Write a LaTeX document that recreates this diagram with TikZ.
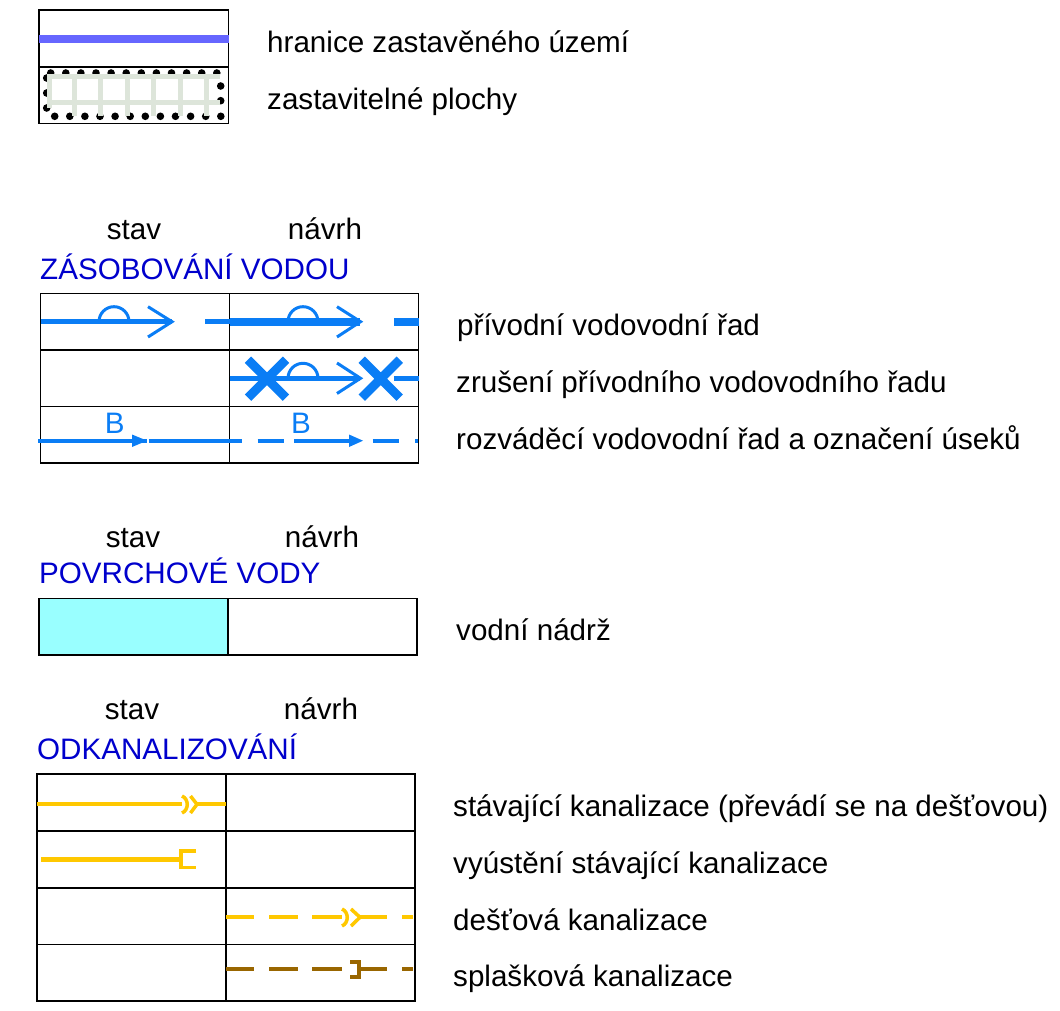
\documentclass[tikz,border=0pt]{standalone}
\usepackage{fontspec}
\setmainfont{Liberation Sans}
\definecolor{wblue}{HTML}{0A7DF5}
\definecolor{hblue}{HTML}{0000CC}
\definecolor{lim}{HTML}{6666FF}
\definecolor{gridc}{HTML}{DDE5DA}
\definecolor{nadrz}{HTML}{99FFFF}
\definecolor{yel}{HTML}{FFC800}
\definecolor{brn}{HTML}{996600}
\tikzset{
  lbl/.style={anchor=base west,inner sep=0pt,yshift=-0.8pt,font=\fontsize{29.6}{32}\selectfont,text=black},
  head/.style={anchor=base,inner sep=0pt,yshift=-0.8pt,font=\fontsize{29.6}{32}\selectfont,text=black},
  sect/.style={anchor=base west,inner sep=0pt,yshift=-0.8pt,font=\fontsize{29.6}{32}\selectfont,text=hblue},
  bmark/.style={anchor=base,inner sep=0pt,yshift=-0.8pt,font=\fontsize{29.6}{32}\selectfont,text=wblue},
  tab/.style={draw=black,line width=1.1pt},
  wl/.style={draw=wblue,line width=5pt},
  wthick/.style={draw=wblue,line width=8pt},
  wthin/.style={draw=wblue,line width=3pt},
  wcross/.style={draw=wblue,line width=9pt},
  wdist/.style={draw=wblue,line width=4pt},
  yl/.style={draw=yel,line width=4pt},
  ythin/.style={draw=yel,line width=3.5pt},
  br/.style={draw=brn,line width=4pt},
  gridl/.style={draw=gridc,line width=5pt},
}
\begin{document}
\begin{tikzpicture}[x=1pt,y=-1pt]
\useasboundingbox (0,0) rectangle (1060,1011);
% top legend
\draw[tab] (39,10) rectangle (228.5,123.5) (39,67) -- (228.5,67);
\draw[draw=lim,line width=8pt] (39,39) -- (228.5,39);
\foreach \i in {0,...,11} {
  \fill (50.7+15.1*\i,73) circle (3.8);
  \fill (54.7+15.1*\i,116.3) circle (3.8);
}
\foreach \y in {78,93,108} \fill (46.7,\y) circle (3.8);
\foreach \y in {86,100.7} \fill (220.7,\y) circle (3.8);
\foreach \y in {76.7,102.7} \draw[gridl] (47,\y) -- (220,\y);
\foreach \x in {49,74,100,127,153.7,180,206} \draw[gridl] (\x,76) -- (\x,\ifdim\x pt=49pt 108\else 116\fi);
\node[lbl] (t1) at (267,52) {hranice zastavěného území};
\node[lbl] (t2) at (267,109) {zastavitelné plochy};
% water supply
\node[head] (s1) at (134,239) {stav};
\node[head] (n1) at (325,239) {návrh};
\node[sect] (z1) at (40,279) {ZÁSOBOVÁNÍ VODOU};
\draw[tab] (40.5,293.5) rectangle (418.5,463) (229.5,293.5) -- (229.5,463) (40.5,350) -- (418.5,350) (40.5,406.7) -- (418.5,406.7);
% row 1
\draw[wl] (40.5,321.7) -- (172,321.7) (205,321.7) -- (229.5,321.7);
\draw[wthin] (99,321.7) arc[start angle=180,end angle=360,radius=15];
\draw[wthin] (148,306.7) -- (172,321.7) -- (148,337);
\draw[wthick] (229.5,321.7) -- (360,321.7) (394,321.7) -- (418.5,321.7);
\draw[wthin] (288,321.7) arc[start angle=180,end angle=360,radius=15];
\draw[wthin] (337,306.7) -- (360.5,321.7) -- (337,337);
% row 2
\draw[wl] (229.5,378.3) -- (360,378.3) (394,378.3) -- (418.5,378.3);
\draw[wthin] (288,378.3) arc[start angle=180,end angle=360,radius=15];
\draw[wthin] (337,363) -- (360.5,378.3) -- (337,393.5);
\draw[wcross] (248,359.7) -- (286,397.7) (286,359.7) -- (248,397.7);
\draw[wcross] (361.7,359.7) -- (399.7,397.7) (399.7,359.7) -- (361.7,397.7);
% row 3
\draw[wdist] (38,440.7) -- (147,440.7) (148.5,440.7) -- (229.5,440.7);
\fill[wblue] (132,434.5) -- (147,440.7) -- (132,447) -- cycle;
\draw[wdist] (229.5,440.7) -- (241.7,440.7) (257.7,440.7) -- (284,440.7) (294,440.7) -- (352,440.7) (372.7,440.7) -- (399,440.7) (415,440.7) -- (417.5,440.7);
\fill[wblue] (349,434.5) -- (363,440.7) -- (349,447) -- cycle;
\node[bmark] (b1) at (114.7,433) {B};
\node[bmark] (b2) at (301,433) {B};
\node[lbl] (r1) at (457,335) {přívodní vodovodní řad};
\node[lbl] (r2) at (456,392) {zrušení přívodního vodovodního řadu};
\node[lbl] (r3) at (456,449) {rozváděcí vodovodní řad a označení úseků};
% surface water
\node[head] (s2) at (133,547) {stav};
\node[head] (n2) at (322,547) {návrh};
\node[sect] (z2) at (39,583) {POVRCHOVÉ VODY};
\fill[nadrz] (39,598.5) rectangle (228,655);
\draw[tab] (39,598.5) rectangle (417,655) (228,598.5) -- (228,655);
\node[lbl] (r4) at (456,640) {vodní nádrž};
% sewerage
\node[head] (s3) at (132,719) {stav};
\node[head] (n3) at (321,719) {návrh};
\node[sect] (z3) at (37,759) {ODKANALIZOVÁNÍ};
\draw[tab] (37,774) rectangle (415,1001) (226,774) -- (226,1001) (37,831) -- (415,831) (37,888) -- (415,888) (37,944.5) -- (415,944.5);
% row 1
\draw[yl] (37,804.3) -- (182,804.3) (197,804.3) -- (226,804.3);
\draw[ythin] (182,796) .. controls (189,799) and (189,810) .. (182,813);
\draw[ythin] (190.5,796) -- (197,804.3) -- (190.5,813);
% row 2
\draw[draw=yel,line width=5pt] (41,859.3) -- (181,859.3);
\draw[ythin] (196,851) -- (181,851) -- (181,867.5) -- (196,867.5);
% row 3
\draw[yl] (226,917.3) -- (254,917.3) (269,917.3) -- (298,917.3) (312,917.3) -- (342,917.3) (360,917.3) -- (387,917.3) (402,917.3) -- (413,917.3);
\draw[ythin] (342,909) .. controls (349,912) and (349,923) .. (342,926);
\draw[ythin] (351,909) -- (360,917.3) -- (351,926);
% row 4
\draw[br] (226,969) -- (254,969) (269,969) -- (298,969) (312,969) -- (342,969) (359,969) -- (387,969) (402,969) -- (413,969);
\draw[br] (350,961.5) -- (359,961.5) -- (359,977) -- (350,977);
\node[lbl] (r5) at (453,816) {stávající kanalizace (převádí se na dešťovou)};
\node[lbl] (r6) at (453,873) {vyústění stávající kanalizace};
\node[lbl] (r7) at (453,930) {dešťová kanalizace};
\node[lbl] (r8) at (453,986) {splašková kanalizace};
\end{tikzpicture}
\end{document}
